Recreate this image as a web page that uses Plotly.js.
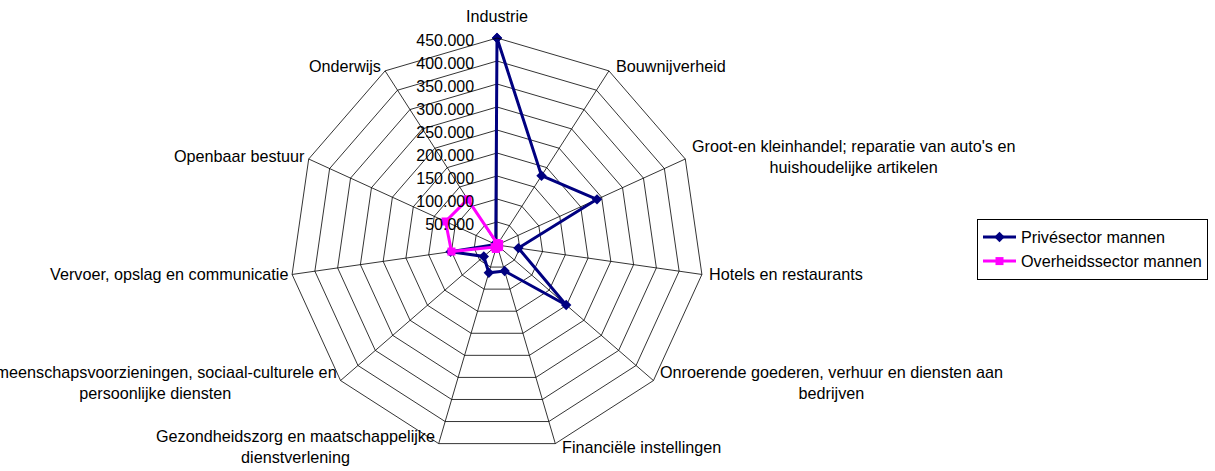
<!DOCTYPE html>
<html>
<head>
<meta charset="utf-8">
<script src="https://cdn.plot.ly/plotly-3.0.1.min.js"></script>
<style>html,body{margin:0;padding:0;background:#fff;}#chart{width:1215px;height:471px;}</style>
</head>
<body>
<div id="chart"></div>
<script>
const categories = [
  "Industrie",
  "Bouwnijverheid",
  "Groot-en kleinhandel; reparatie van auto's en<br>huishoudelijke artikelen",
  "Hotels en restaurants",
  "Onroerende goederen, verhuur en diensten aan<br>bedrijven",
  "Financiële instellingen",
  "Gezondheidszorg en maatschappelijke<br>dienstverlening",
  "Gemeenschapsvoorzieningen, sociaal-culturele en<br>persoonlijke diensten",
  "Vervoer, opslag en communicatie",
  "Openbaar bestuur",
  "Onderwijs"
];
const priveMannen = [450000, 179000, 239000, 47000, 199000, 59000, 63000, 38000, 102000, 3000, 5000];
const overheidMannen = [4000, 3000, 5000, 2000, 6000, 5000, 9000, 7000, 100000, 123000, 118000];
const radialTicks = [50000, 100000, 150000, 200000, 250000, 300000, 350000, 400000, 450000];
const seriesNames = ["Privésector mannen", "Overheidssector mannen"];

function closed(a){ return a.concat([a[0]]); }

const traces = [
  {
    type: 'scatterpolar', mode: 'lines+markers', name: seriesNames[0],
    r: closed(priveMannen), theta: closed(categories),
    line: {color: '#000080', width: 3},
    marker: {symbol: 'diamond', size: 8, color: '#000080'},
    cliponaxis: false
  },
  {
    type: 'scatterpolar', mode: 'lines+markers', name: seriesNames[1],
    r: closed(overheidMannen), theta: closed(categories),
    line: {color: '#FF00FF', width: 3},
    marker: {symbol: 'square', size: 8, color: '#FF00FF'},
    cliponaxis: false
  }
];

const W = 1215, H = 471;
const cx = 497, cy = 245, R = 207;
const FS = 16.2;

// category labels placed just outside each vertex of the polar frame
const annotations = categories.map(function(txt, i){
  const deg = 90 - i * 360 / categories.length;
  const rad = deg * Math.PI / 180;
  const c = Math.cos(rad), s = Math.sin(rad);
  const vx = cx + R * c, vy = cy - R * s;
  let xa, ya, px, py;
  if (Math.abs(c) < 0.1) {
    xa = 'center'; ya = s > 0 ? 'bottom' : 'top';
    px = vx; py = vy - (s > 0 ? 12 : -6);
  } else {
    xa = c > 0 ? 'left' : 'right'; ya = 'middle';
    px = vx + (c > 0 ? 6 : -3); py = vy - 4.5 * s - 1;
  }
  return {
    text: txt, xref: 'paper', yref: 'paper',
    x: px / W, y: 1 - py / H, xanchor: xa, yanchor: ya,
    align: 'center', showarrow: false, borderpad: 0,
    font: {size: FS, color: '#000'}
  };
});

const layout = {
  width: W, height: H,
  margin: {l: 0, r: 0, t: 0, b: 0},
  paper_bgcolor: '#fff',
  separators: ',.',
  font: {family: 'Liberation Sans, Arial, sans-serif', size: FS, color: '#000'},
  showlegend: true,
  legend: {
    x: 977 / W, y: 1 - 219 / H, xanchor: 'left', yanchor: 'top',
    bgcolor: '#fff', bordercolor: '#000', borderwidth: 1,
    font: {size: FS}, tracegroupgap: 0, itemwidth: 33
  },
  annotations: annotations,
  polar: {
    domain: {x: [(cx - R) / W, (cx + R) / W], y: [(H - cy - R) / H, (H - cy + R) / H]},
    gridshape: 'linear',
    bgcolor: '#fff',
    radialaxis: {
      range: [0, 450000],
      tickvals: radialTicks,
      tickformat: ',.0f',
      angle: 90,
      side: 'counterclockwise',
      showline: false,
      ticks: 'outside', ticklen: 8, tickcolor: 'rgba(0,0,0,0)',
      gridcolor: '#000', gridwidth: 0.8,
      tickfont: {size: 16}
    },
    angularaxis: {
      type: 'category',
      rotation: 90,
      direction: 'clockwise',
      showline: true, linecolor: '#000', linewidth: 0.8,
      gridcolor: '#000', gridwidth: 0.8,
      ticks: '', showticklabels: false
    }
  }
};

Plotly.newPlot('chart', traces, layout, {displayModeBar: false, staticPlot: true});
</script>
</body>
</html>
